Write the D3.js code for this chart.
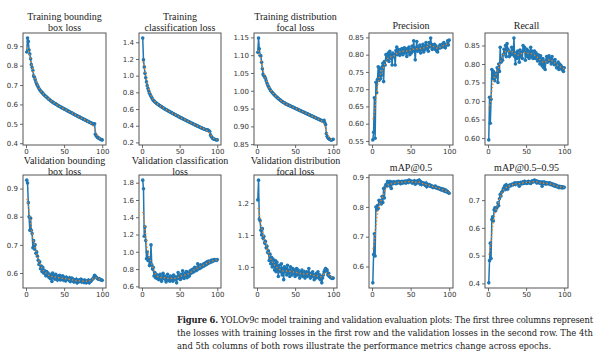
<!DOCTYPE html>
<html><head><meta charset="utf-8">
<script src="https://cdn.jsdelivr.net/npm/d3@7"></script>
<style>body{margin:0;background:#fff}svg{display:block}</style>
</head><body><svg id="c" width="600" height="360"></svg>
<script>
const epochs = d3.range(1, 101);

const trainBox = [0.870,0.942,0.925,0.880,0.860,0.835,0.805,0.790,0.775,0.748,
0.740,0.728,0.715,0.705,0.698,0.690,0.682,0.676,0.670,0.665,
0.662,0.657,0.652,0.648,0.645,0.641,0.638,0.634,0.630,0.627,
0.624,0.620,0.618,0.614,0.612,0.609,0.606,0.604,0.602,0.600,
0.597,0.594,0.592,0.590,0.588,0.585,0.583,0.581,0.579,0.577,
0.575,0.573,0.571,0.569,0.566,0.564,0.562,0.560,0.558,0.556,
0.554,0.552,0.549,0.547,0.545,0.543,0.541,0.539,0.537,0.535,
0.533,0.531,0.529,0.527,0.525,0.523,0.521,0.519,0.517,0.515,
0.513,0.511,0.509,0.507,0.505,0.503,0.501,0.498,0.497,0.500,
0.446,0.438,0.434,0.430,0.427,0.425,0.422,0.420,0.418,0.417];

const trainCls = [1.450,1.190,1.105,1.030,0.975,0.925,0.880,0.845,0.815,0.790,
0.770,0.752,0.735,0.720,0.706,0.695,0.686,0.678,0.671,0.664,
0.657,0.650,0.644,0.638,0.632,0.626,0.620,0.614,0.608,0.603,
0.598,0.592,0.587,0.582,0.577,0.572,0.567,0.562,0.557,0.552,
0.547,0.542,0.537,0.532,0.527,0.522,0.518,0.513,0.508,0.503,
0.499,0.494,0.489,0.485,0.480,0.475,0.471,0.466,0.462,0.457,
0.453,0.448,0.444,0.439,0.435,0.430,0.426,0.421,0.417,0.412,
0.408,0.404,0.399,0.395,0.391,0.387,0.382,0.378,0.374,0.370,
0.366,0.362,0.358,0.354,0.351,0.348,0.350,0.345,0.338,0.330,
0.290,0.272,0.258,0.248,0.242,0.238,0.235,0.233,0.231,0.230];

const trainDfl = [1.108,1.148,1.118,1.100,1.098,1.080,1.062,1.046,1.042,1.040,
1.035,1.028,1.022,1.017,1.012,1.008,1.004,1.000,0.998,0.995,
0.993,0.990,0.988,0.986,0.984,0.982,0.980,0.978,0.976,0.975,
0.973,0.971,0.970,0.968,0.967,0.966,0.964,0.963,0.962,0.961,
0.960,0.959,0.958,0.957,0.956,0.955,0.954,0.953,0.952,0.951,
0.950,0.949,0.948,0.947,0.946,0.945,0.944,0.943,0.942,0.941,
0.940,0.939,0.938,0.937,0.936,0.935,0.934,0.933,0.932,0.931,
0.930,0.929,0.928,0.927,0.926,0.925,0.924,0.923,0.922,0.921,
0.920,0.919,0.918,0.917,0.916,0.915,0.916,0.917,0.910,0.905,
0.880,0.872,0.868,0.866,0.864,0.863,0.862,0.862,0.863,0.864];

const precision = [0.553,0.575,0.675,0.558,0.720,0.690,0.728,0.765,0.725,0.760,
0.730,0.740,0.765,0.775,0.722,0.780,0.770,0.800,0.785,0.795,
0.805,0.780,0.810,0.790,0.800,0.770,0.805,0.795,0.800,0.770,
0.812,0.822,0.800,0.815,0.810,0.798,0.815,0.805,0.818,0.800,
0.812,0.820,0.805,0.815,0.795,0.818,0.808,0.822,0.800,0.815,
0.805,0.825,0.810,0.840,0.815,0.785,0.820,0.838,0.810,0.822,
0.812,0.828,0.805,0.820,0.815,0.830,0.808,0.825,0.815,0.835,
0.818,0.825,0.810,0.835,0.822,0.848,0.830,0.815,0.828,0.820,
0.830,0.815,0.825,0.810,0.808,0.818,0.822,0.828,0.820,0.825,
0.830,0.822,0.835,0.825,0.820,0.830,0.828,0.840,0.828,0.842];

const recall = [0.595,0.710,0.640,0.705,0.785,0.760,0.780,0.770,0.755,0.775,
0.765,0.790,0.750,0.800,0.780,0.845,0.805,0.815,0.810,0.825,
0.840,0.830,0.850,0.820,0.855,0.840,0.835,0.820,0.830,0.825,
0.845,0.835,0.825,0.870,0.820,0.800,0.830,0.815,0.835,0.825,
0.805,0.838,0.820,0.832,0.815,0.850,0.835,0.845,0.810,0.830,
0.840,0.820,0.835,0.815,0.830,0.845,0.820,0.835,0.815,0.825,
0.835,0.815,0.830,0.820,0.808,0.825,0.815,0.800,0.822,0.810,
0.795,0.815,0.790,0.805,0.785,0.810,0.820,0.805,0.815,0.822,
0.808,0.815,0.800,0.820,0.810,0.805,0.798,0.812,0.800,0.790,
0.795,0.805,0.785,0.800,0.790,0.795,0.785,0.790,0.780,0.790];

const valBox = [0.930,0.920,0.850,0.800,0.752,0.795,0.752,0.740,0.690,0.715,
0.685,0.700,0.670,0.675,0.660,0.645,0.630,0.640,0.615,0.625,
0.605,0.620,0.600,0.610,0.598,0.590,0.605,0.592,0.600,0.585,
0.590,0.580,0.595,0.570,0.600,0.585,0.590,0.578,0.595,0.582,
0.575,0.588,0.580,0.592,0.575,0.585,0.578,0.590,0.575,0.582,
0.585,0.572,0.585,0.578,0.580,0.575,0.583,0.570,0.578,0.582,
0.572,0.578,0.568,0.575,0.570,0.578,0.565,0.572,0.568,0.576,
0.570,0.578,0.568,0.575,0.570,0.566,0.575,0.570,0.565,0.572,
0.568,0.575,0.565,0.572,0.570,0.575,0.578,0.580,0.585,0.592,
0.588,0.585,0.582,0.580,0.578,0.580,0.577,0.576,0.575,0.574];

const valCls = [1.830,1.730,1.180,1.290,1.130,0.920,1.000,0.900,0.930,0.840,
0.870,1.080,0.850,0.800,0.820,0.720,0.760,0.700,0.740,0.690,
0.720,0.680,0.700,0.740,0.680,0.660,0.710,0.750,0.690,0.720,
0.680,0.650,0.700,0.740,0.670,0.700,0.660,0.720,0.680,0.700,
0.660,0.730,0.690,0.680,0.710,0.640,0.700,0.760,0.690,0.720,
0.680,0.740,0.700,0.780,0.720,0.690,0.750,0.720,0.770,0.700,
0.760,0.740,0.720,0.780,0.750,0.790,0.760,0.800,0.770,0.820,
0.780,0.810,0.790,0.860,0.800,0.830,0.810,0.850,0.820,0.840,
0.830,0.860,0.840,0.870,0.850,0.880,0.860,0.890,0.870,0.890,
0.880,0.900,0.885,0.905,0.895,0.910,0.900,0.905,0.900,0.910];

const valDfl = [1.210,1.272,1.150,1.145,1.115,1.100,1.120,1.090,1.095,1.075,
1.080,1.060,1.065,1.045,1.050,1.020,1.040,1.010,1.030,1.000,
1.025,1.005,0.990,1.020,0.985,1.015,0.995,0.970,1.005,0.990,
0.985,1.010,0.975,0.995,0.960,1.000,0.985,0.995,0.975,1.005,
0.980,0.990,0.970,1.000,0.985,0.975,0.995,0.980,0.990,0.970,
0.985,0.995,0.975,0.990,0.980,0.965,0.985,0.975,0.990,0.970,
0.980,0.985,0.965,0.975,0.985,0.970,0.980,0.995,0.975,0.965,
0.980,0.970,0.985,0.975,0.960,0.975,0.965,0.980,0.970,0.985,
0.965,0.975,0.960,0.970,0.950,0.965,0.975,0.985,0.990,0.995,
0.985,0.990,0.975,0.980,0.970,0.968,0.966,0.965,0.964,0.965];

const map50 = [0.545,0.640,0.710,0.635,0.800,0.790,0.805,0.795,0.822,0.812,
0.820,0.810,0.835,0.815,0.862,0.830,0.868,0.875,0.870,0.885,
0.880,0.885,0.870,0.885,0.862,0.880,0.878,0.885,0.880,0.882,
0.878,0.885,0.880,0.886,0.882,0.885,0.878,0.884,0.886,0.880,
0.885,0.882,0.887,0.880,0.885,0.888,0.882,0.890,0.885,0.888,
0.884,0.880,0.886,0.882,0.888,0.876,0.885,0.880,0.888,0.884,
0.890,0.878,0.885,0.875,0.882,0.878,0.880,0.876,0.872,0.880,
0.868,0.876,0.872,0.875,0.870,0.873,0.868,0.870,0.865,0.868,
0.866,0.870,0.864,0.866,0.862,0.865,0.860,0.863,0.858,0.862,
0.856,0.860,0.854,0.858,0.852,0.856,0.850,0.852,0.848,0.846];

const map5095 = [0.402,0.482,0.545,0.490,0.630,0.640,0.625,0.665,0.672,0.662,
0.670,0.675,0.690,0.680,0.705,0.720,0.715,0.728,0.732,0.740,
0.745,0.752,0.738,0.755,0.748,0.740,0.752,0.750,0.755,0.752,
0.756,0.758,0.755,0.758,0.762,0.756,0.760,0.762,0.758,0.762,
0.750,0.760,0.764,0.758,0.762,0.766,0.760,0.768,0.762,0.765,
0.760,0.764,0.768,0.762,0.766,0.760,0.765,0.770,0.765,0.768,
0.772,0.766,0.770,0.762,0.768,0.765,0.762,0.766,0.760,0.764,
0.750,0.765,0.760,0.765,0.758,0.762,0.758,0.762,0.760,0.758,
0.762,0.756,0.760,0.755,0.758,0.752,0.756,0.750,0.754,0.748,
0.752,0.748,0.745,0.750,0.746,0.748,0.744,0.748,0.745,0.746];

const titles = [
  ["Training bounding","box loss"],["Training","classification loss"],["Training distribution","focal loss"],["Precision"],["Recall"],
  ["Validation bounding","box loss"],["Validation classification","loss"],["Validation distribution","focal loss"],["mAP@0.5"],["mAP@0.5\u20130.95"]
];
const seriesList = [trainBox, trainCls, trainDfl, precision, recall, valBox, valCls, valDfl, map50, map5095];
const yTickValues = [
  [0.4,0.5,0.6,0.7,0.8,0.9],
  [0.2,0.4,0.6,0.8,1.0,1.2,1.4],
  [0.85,0.90,0.95,1.00,1.05,1.10,1.15],
  [0.55,0.60,0.65,0.70,0.75,0.80,0.85],
  [0.60,0.65,0.70,0.75,0.80,0.85],
  [0.6,0.7,0.8,0.9],
  [0.6,0.8,1.0,1.2,1.4,1.6,1.8],
  [1.0,1.1,1.2],
  [0.6,0.7,0.8,0.9],
  [0.4,0.5,0.6,0.7]
];
const yTickDecimals = [1,1,2,2,2,1,1,1,1,1];
const xTickValues = [0,50,100];

const captionLines = [
  ["Figure 6.", " YOLOv9c model training and validation evaluation plots: The first three columns represent"],
  ["", "the losses with training losses in the first row and the validation losses in the second row. The 4th"],
  ["", "and 5th columns of both rows illustrate the performance metrics change across epochs."]
];

// gaussian smoothing (sigma=3, reflect) like YOLO's results plot
function smooth(y, sigma) {
  const r = Math.round(4 * sigma), n = y.length;
  const w = d3.range(-r, r + 1).map(k => Math.exp(-0.5 * k * k / (sigma * sigma)));
  const ws = d3.sum(w);
  return y.map((_, i) => {
    let s = 0;
    for (let k = -r; k <= r; k++) {
      let j = i + k;
      while (j < 0 || j >= n) { if (j < 0) j = -j - 1; if (j >= n) j = 2 * n - j - 1; }
      s += w[k + r] * y[j];
    }
    return s / ws;
  });
}

const svg = d3.select("#c");
const colX = [[23,106],[139,221],[254,337],[369,453],[485,568]];
const rowY = [[33,145],[175,288]];
const blue = "#1f77b4", orange = "#ff7f0e";

seriesList.forEach((vals, idx) => {
  const col = idx % 5, row = Math.floor(idx / 5);
  const [x0, x1] = colX[col], [y0, y1] = rowY[row];
  const ext = d3.extent(vals), span = ext[1] - ext[0];
  const x = d3.scaleLinear().domain([1 - 4.95, 100 + 4.95]).range([x0, x1]);
  const y = d3.scaleLinear().domain([ext[0] - 0.05 * span, ext[1] + 0.05 * span]).range([y1, y0]);
  const g = svg.append("g");

  const clipId = "clip" + idx;
  g.append("clipPath").attr("id", clipId).append("rect").attr("x", x0).attr("y", y0).attr("width", x1 - x0).attr("height", y1 - y0);
  const plot = g.append("g").attr("clip-path", `url(#${clipId})`);

  const line = d3.line().x((d, i) => x(epochs[i])).y(d => y(d));
  plot.append("path").datum(vals).attr("d", line).attr("fill", "none").attr("stroke", blue).attr("stroke-width", 1.5);
  plot.selectAll("circle").data(vals).join("circle")
    .attr("cx", (d, i) => x(epochs[i])).attr("cy", d => y(d)).attr("r", 1.8).attr("fill", blue);
  plot.append("path").datum(smooth(vals, 3)).attr("d", line).attr("fill", "none")
    .attr("stroke", orange).attr("stroke-width", 1.3).attr("stroke-dasharray", "1.3,2.2");

  const fmt = d3.format("." + yTickDecimals[idx] + "f");
  const ya = g.append("g").attr("transform", `translate(${x0},0)`)
    .call(d3.axisLeft(y).tickValues(yTickValues[idx]).tickFormat(fmt).tickSize(3).tickPadding(2));
  const xa = g.append("g").attr("transform", `translate(0,${y1})`)
    .call(d3.axisBottom(x).tickValues(xTickValues).tickFormat(d3.format("d")).tickSize(3).tickPadding(1));
  [ya, xa].forEach(a => {
    a.select(".domain").remove();
    a.selectAll("line").attr("stroke", "#444").attr("stroke-width", 0.8);
    a.selectAll("text").attr("fill", "#333").style("font-family", "DejaVu Sans").style("font-size", "7px");
  });
  g.append("rect").attr("x", x0).attr("y", y0).attr("width", x1 - x0).attr("height", y1 - y0)
    .attr("fill", "none").attr("stroke", "#555").attr("stroke-width", 1);

  const t = titles[idx];
  const cx = (x0 + x1) / 2;
  let base;
  if (t.length === 1) base = [y0 - 4];
  else if (row === 0) base = [y0 - 13, y0 - 2];
  else base = [y0 - 11.5, y0 - 0.5];
  t.forEach((s, k) => {
    svg.append("text").attr("x", cx).attr("y", base[k]).attr("text-anchor", "middle")
      .style("font-family", "Liberation Serif").style("font-size", "10px").attr("fill", "#222").text(s);
  });
});

const capY = [323, 336, 349];
captionLines.forEach((ln, i) => {
  const t = svg.append("text").attr("x", 177).attr("y", capY[i])
    .style("font-family", "DejaVu Serif").style("font-size", "8.4px").attr("fill", "#222");
  if (ln[0]) t.append("tspan").style("font-weight", "bold").text(ln[0]);
  t.append("tspan").text(ln[1]);
  if (i < 2) t.attr("textLength", 416).attr("lengthAdjust", "spacing");
});
</script></body></html>
